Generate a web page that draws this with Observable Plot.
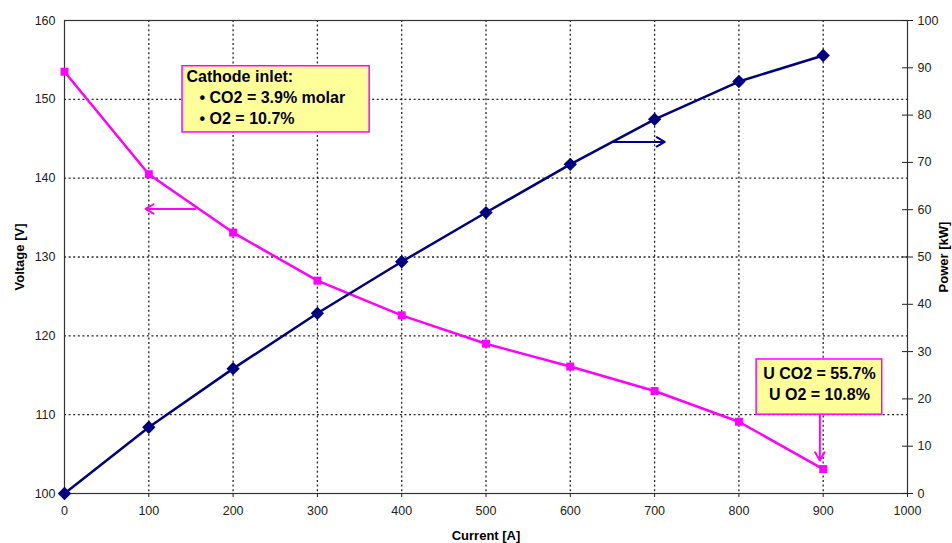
<!DOCTYPE html>
<html>
<head>
<meta charset="utf-8">
<script src="https://cdn.jsdelivr.net/npm/d3@7"></script>
<script src="https://cdn.jsdelivr.net/npm/@observablehq/plot@0.6"></script>
<style>
  html, body { margin: 0; padding: 0; background: #fff; }
  #chart { width: 952px; height: 543px; }
  g[aria-label$="axis label"] text { font-weight: bold; font-size: 13px; fill: #000; }
</style>
</head>
<body>
<div id="chart"></div>
<script>
// ---- data ----
const current = [0, 100, 200, 300, 400, 500, 600, 700, 800, 900];
const voltage = [153.5, 140.5, 133.1, 127.0, 122.6, 119.0, 116.1, 113.0, 109.1, 103.1];
const power   = [0, 14.0, 26.4, 38.1, 49.0, 59.4, 69.6, 79.1, 87.1, 92.6];
const xTicks = [0, 100, 200, 300, 400, 500, 600, 700, 800, 900, 1000];
const voltTicks = [100, 110, 120, 130, 140, 150, 160];
const powerTicks = [0, 10, 20, 30, 40, 50, 60, 70, 80, 90, 100];
const inletLines = ["Cathode inlet:", "• CO2 = 3.9% molar", "• O2 = 10.7%"];
const utilLines = ["U CO2 = 55.7%", "U O2 = 10.8%"];

// power (0..100 kW) is drawn on the voltage scale (100..160 V)
const p2v = p => 100 + p * 0.6;
const v2p = v => (v - 100) / 0.6;

const vData = current.map((c, i) => ({c, v: voltage[i]}));
const pData = current.map((c, i) => ({c, v: p2v(power[i])}));

const MAG = "#ff00ff", NAVY = "#000080";
const FONT = "Liberation Sans, Arial, sans-serif";
const boxText = {fontWeight: "bold", fontSize: 16, fill: "#000", fontFamily: FONT};

const chart = Plot.plot({
  width: 952,
  height: 543,
  marginLeft: 64,
  marginRight: 45,
  marginTop: 20,
  marginBottom: 50,
  style: {fontFamily: FONT, fontSize: "12.5px", color: "#222", background: "#fff"},
  x: {domain: [0, 1000]},
  y: {domain: [100, 160]},
  marks: [
    // dotted grid
    Plot.ruleX(xTicks.filter(d => d > 0 && d < 1000), {stroke: "#000", strokeWidth: 1.3, strokeDasharray: "2,2.6", strokeOpacity: 0.85}),
    Plot.ruleY(voltTicks.filter(d => d > 100 && d < 160), {stroke: "#000", strokeWidth: 1.3, strokeDasharray: "2,2.6", strokeOpacity: 0.85}),
    Plot.frame({stroke: "#333", strokeWidth: 1.2}),
    // axes
    Plot.axisX({ticks: xTicks, tickFormat: d3.format("d"), tickSize: 4, tickPadding: 9, label: "Current [A]", labelAnchor: "center", labelArrow: "none", labelOffset: 46, fontSize: 12.5}),
    Plot.axisY({ticks: voltTicks, tickSize: 0, tickPadding: 9, label: "Voltage [V]", labelAnchor: "center", labelArrow: "none", labelOffset: 50, fontSize: 12.5}),
    Plot.axisY({ticks: powerTicks.map(p2v), tickFormat: v => d3.format("d")(Math.round(v2p(v))), anchor: "right", tickSize: 5, tickPadding: 5, label: "Power [kW]", labelAnchor: "center", labelArrow: "none", labelOffset: 40, labelRotate: -90, fontSize: 12.5}),
    Plot.axisY({ticks: powerTicks.map(p2v), tickFormat: () => "", anchor: "left", x: 1000, tickSize: 5, label: null}),
    // series
    Plot.line(vData, {x: "c", y: "v", stroke: MAG, strokeWidth: 2.5}),
    Plot.dot(vData, {x: "c", y: "v", symbol: "square", fill: MAG, r: 4.5}),
    Plot.line(pData, {x: "c", y: "v", stroke: NAVY, strokeWidth: 2.5}),
    Plot.dot(pData, {x: "c", y: "v", symbol: "diamond2", fill: NAVY, r: 6}),
    // direction arrows
    Plot.arrow([{x1: 155, x2: 96, y: 136.1}], {x1: "x1", x2: "x2", y1: "y", y2: "y", stroke: MAG, strokeWidth: 2, headLength: 7, insetEnd: 0}),
    Plot.arrow([{x1: 651, x2: 712, y: 144.6}], {x1: "x1", x2: "x2", y1: "y", y2: "y", stroke: NAVY, strokeWidth: 2, headLength: 7, insetEnd: 0}),
    Plot.arrow([{x: 896, y1: 110, y2: 104.2}], {x1: "x", x2: "x", y1: "y1", y2: "y2", stroke: MAG, strokeWidth: 2, headLength: 7, insetEnd: 0}),
    // annotation box 1
    Plot.rect([{x1: 140, x2: 362, y1: 145.8, y2: 154.2}], {x1: "x1", x2: "x2", y1: "y1", y2: "y2", fill: "#ffff99", stroke: MAG, strokeWidth: 1.5}),
    Plot.text([inletLines[0]], {x: 140, y: 154.2, text: d => d, textAnchor: "start", lineAnchor: "middle", dx: 4, dy: 11, ...boxText}),
    Plot.text([inletLines[1]], {x: 140, y: 154.2, text: d => d, textAnchor: "start", lineAnchor: "middle", dx: 17, dy: 32, ...boxText}),
    Plot.text([inletLines[2]], {x: 140, y: 154.2, text: d => d, textAnchor: "start", lineAnchor: "middle", dx: 17, dy: 53, ...boxText}),
    // annotation box 2
    Plot.rect([{x1: 821, x2: 970, y1: 110.0, y2: 117.0}], {x1: "x1", x2: "x2", y1: "y1", y2: "y2", fill: "#ffff99", stroke: MAG, strokeWidth: 1.5}),
    Plot.text([utilLines[0]], {x: 895.5, y: 117.0, text: d => d, textAnchor: "middle", lineAnchor: "middle", dy: 14, ...boxText}),
    Plot.text([utilLines[1]], {x: 895.5, y: 117.0, text: d => d, textAnchor: "middle", lineAnchor: "middle", dy: 35, ...boxText}),
  ]
});

document.getElementById("chart").appendChild(chart);
</script>
</body>
</html>
